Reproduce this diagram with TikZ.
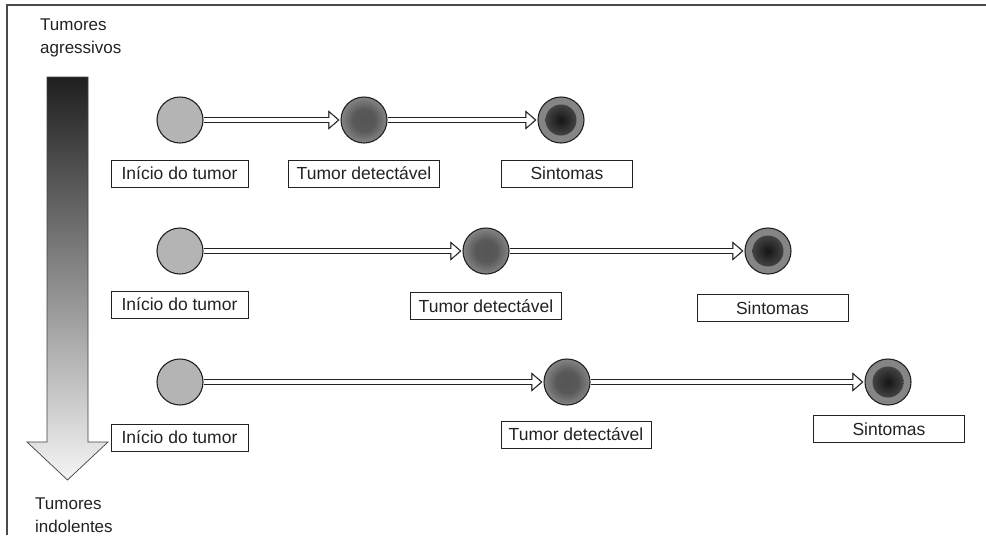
\documentclass[tikz,border=0pt]{standalone}
\usepackage{fontspec}
\setmainfont{Liberation Sans}
\usepackage{tikz}
\usetikzlibrary{arrows.meta, positioning}
\definecolor{tInk}{HTML}{222222}
\definecolor{tFrame}{HTML}{4A4A4A}
\definecolor{tEarly}{HTML}{B4B4B4}
\definecolor{tMidIn}{HTML}{555555}
\definecolor{tMidOut}{HTML}{9C9C9C}
\definecolor{tLate}{HTML}{858585}
\definecolor{tCoreIn}{HTML}{151515}
\definecolor{tCoreOut}{HTML}{5C5C5C}
\pgfdeclareradialshading{tumormid}{\pgfpoint{0bp}{0bp}}{color(0bp)=(tMidIn); color(12bp)=(tMidIn!95!tMidOut); color(32bp)=(tMidOut); color(50bp)=(tMidOut)}
\pgfdeclareradialshading{tumorcore}{\pgfpoint{0bp}{0bp}}{color(0bp)=(tCoreIn); color(30bp)=(black!70); color(46bp)=(tCoreOut); color(50bp)=(tCoreOut)}

\begin{document}
\begin{tikzpicture}[x=1pt, y=-1pt,
  cell/.style={circle, draw=tInk, line width=1.1pt, minimum size=46, inner sep=0},
  early/.style={cell, fill=tEarly},
  mid/.style={cell, shading=tumormid},
  late/.style={cell, fill=tLate},
  tag/.style={draw=tInk, line width=0.8pt, minimum height=27, minimum width=#1, inner sep=0,
              font=\fontsize{17.5}{20}\selectfont\color{tInk}},
  tag/.default=137,
  flow/.style={draw=tInk, line width=6.8pt, shorten >=1pt,
               -{Triangle[length=11pt, width=19pt, line width=0.3pt]}},
  flowin/.style={draw=white, line width=4.4pt, shorten >=2.9pt, shorten <=0.8pt,
                 -{Triangle[length=8pt, width=13.8pt, line width=0.3pt]}},
  side/.style={anchor=north west, align=left, inner sep=0,
               font=\fontsize{17}{23}\selectfont\color{tInk}}]
  \useasboundingbox (0,0) rectangle (986,539);
  % frame
  \draw[tFrame, line width=1.6pt] (986,5) -- (7,5) -- (7,535);
  % scale: aggressive to indolent
  \shade[top color=black!88, bottom color=black!4, draw=black!75, line width=0.7pt]
    (47,77) -- (88,77) -- (88,442) -- (108,442) -- (67.5,480) -- (27,442) -- (47,442) -- cycle;
  \node[side] (agr) at (40,19) {Tumores\\agressivos};
  \node[side] (ind) at (35,498) {Tumores\\indolentes};
  % row 1
  \node[early] (o1) at (180,120) {};
  \node[mid]   (d1) at (364,120) {};
  \node[late]  (s1) at (561,120) {};
  \node[tag]      (lo1) at (179.5,173.5) {Início do tumor};
  \node[tag=151]  (ld1) at (364,173.5) {Tumor detectável};
  \node[tag=131]  (ls1) at (567,173.5) {Sintomas};
  % row 2
  \node[early] (o2) at (180,251) {};
  \node[mid]   (d2) at (486,251) {};
  \node[late]  (s2) at (768,251) {};
  \node[tag]      (lo2) at (179.5,304.5) {Início do tumor};
  \node[tag=151]  (ld2) at (486,306) {Tumor detectável};
  \node[tag=151]  (ls2) at (772.5,308) {Sintomas};
  % row 3
  \node[early] (o3) at (180,382) {};
  \node[mid]   (d3) at (567,382) {};
  \node[late]  (s3) at (888,382) {};
  \node[tag]      (lo3) at (179.5,437.5) {Início do tumor};
  \node[tag=150]  (ld3) at (576,434.5) {Tumor detectável};
  \node[tag=151]  (ls3) at (889,429) {Sintomas};
  % dark cores of the late stage
  \foreach \n in {s1, s2, s3}
    \shade[shading=tumorcore] (\n.center) circle (15.5);
  % arrows (hollow: dark outline, white inside)
  \foreach \a/\b in {o1/d1, d1/s1, o2/d2, d2/s2, o3/d3, d3/s3} {
    \draw[flow] (\a) -- (\b);
    \draw[flowin] (\a) -- (\b);
  }
\end{tikzpicture}
\end{document}
